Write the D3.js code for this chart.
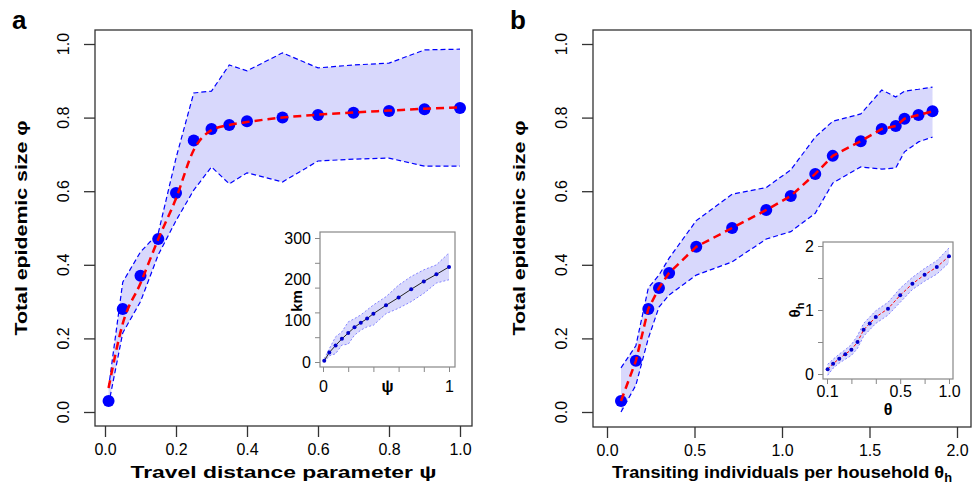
<!DOCTYPE html>
<html>
<head>
<meta charset="utf-8">
<script src="https://cdn.jsdelivr.net/npm/d3@7"></script>
<style>
    body { margin: 0; background: #fff; }
    svg { font-family: "Liberation Sans", Arial, sans-serif; }
</style>
</head>
<body>
<div id="graph"></div>
<script>
// panel a: travel distance parameter psi
var psiValues = [0.01, 0.05, 0.1, 0.15, 0.2, 0.25, 0.3, 0.35, 0.4, 0.5, 0.6, 0.7, 0.8, 0.9, 1.0];
var sizeA = [0.03, 0.28, 0.37, 0.47, 0.595, 0.738, 0.769, 0.78, 0.79, 0.80, 0.807, 0.813, 0.818, 0.823, 0.826];
var upperA = [0.065, 0.353, 0.435, 0.486, 0.69, 0.867, 0.872, 0.943, 0.927, 0.976, 0.935, 0.943, 0.948, 0.984, 0.986];
var lowerA = [0.02, 0.215, 0.30, 0.427, 0.52, 0.603, 0.666, 0.62, 0.65, 0.625, 0.682, 0.687, 0.69, 0.668, 0.668];
var fitA = [0.065, 0.24, 0.35, 0.47, 0.58, 0.712, 0.766, 0.78, 0.788, 0.80, 0.808, 0.814, 0.819, 0.824, 0.828];

// inset a: km vs psi
var kmValues = [3, 23, 40, 56, 70, 84, 95, 105, 117, 137, 156, 176, 195, 212, 230];
var kmUpper = [8, 32, 61, 73, 97, 105, 114, 126, 138, 158, 186, 207, 223, 235, 264];
var kmLower = [0, 15, 20, 41, 43, 65, 77, 85, 89, 117, 130, 146, 166, 191, 199];

// panel b: transiting individuals per household theta_h
var thetaH = [0.08, 0.165, 0.236, 0.297, 0.355, 0.51, 0.715, 0.91, 1.05, 1.19, 1.29, 1.45, 1.57, 1.65, 1.70, 1.78, 1.86];
var sizeB = [0.03, 0.139, 0.28, 0.337, 0.378, 0.449, 0.50, 0.549, 0.587, 0.647, 0.696, 0.736, 0.769, 0.777, 0.797, 0.807, 0.817];
var upperB = [0.12, 0.18, 0.337, 0.372, 0.418, 0.52, 0.592, 0.61, 0.658, 0.747, 0.79, 0.81, 0.875, 0.856, 0.872, 0.877, 0.883];
var lowerB = [0.0, 0.073, 0.20, 0.285, 0.318, 0.372, 0.408, 0.47, 0.49, 0.54, 0.622, 0.666, 0.66, 0.663, 0.707, 0.734, 0.747];

// inset b: theta_h vs theta
var thetaPos = [0.005, 0.05, 0.1, 0.15, 0.2, 0.25, 0.3, 0.35, 0.4, 0.5, 0.6, 0.7, 0.8, 0.9, 1.0];
var thetaHIn = [0.073, 0.16, 0.24, 0.31, 0.38, 0.50, 0.69, 0.79, 0.89, 1.02, 1.23, 1.41, 1.55, 1.67, 1.84];
var thetaHUp = [0.15, 0.23, 0.31, 0.38, 0.46, 0.60, 0.79, 0.89, 0.99, 1.12, 1.34, 1.51, 1.65, 1.77, 1.97];
var thetaHLo = [-0.02, 0.09, 0.17, 0.23, 0.29, 0.40, 0.59, 0.69, 0.79, 0.92, 1.12, 1.32, 1.45, 1.56, 1.74];

var yTicks = [0, 0.2, 0.4, 0.6, 0.8, 1.0];
var xTicksA = [0, 0.2, 0.4, 0.6, 0.8, 1.0];
var xTicksB = [0, 0.5, 1.0, 1.5, 2.0];
var insetXTicks = [0, 0.2, 0.4, 0.6, 0.8, 1.0];
var insetAXLabels = ["0", "", "", "", "", "1"];
var insetBXLabels = ["0.1", "", "", "0.5", "", "1.0"];
var kmTicks = [0, 60, 120, 180, 240, 300];
var kmLabels = [0, 100, 200, 300];
var thetaHTicks = [0, 0.5, 1, 1.5, 2];
var thetaHLabels = [0, 1, 2];

var width = 973, height = 497;
var svg = d3.select("#graph").append("svg")
    .attr("width", width)
    .attr("height", height);

var bandFill = "#d8d8fc";
var blue = "#0000ff";
var red = "#ff0000";
var fmt1 = d3.format(".1f");

function zip(xs, ys) {
    return xs.map(function(x, i) { return [x, ys[i]]; });
}

function drawPanel(opt) {
    var x = d3.scaleLinear().domain(opt.xDomain).range(opt.xRange);
    var y = d3.scaleLinear().domain([0, 1]).range([412, 44]);
    var g = svg.append("g");

    var area = d3.area()
        .x(function(d) { return x(d[0]); })
        .y0(function(d) { return y(d[1]); })
        .y1(function(d) { return y(d[2]); });
    var line = d3.line()
        .x(function(d) { return x(d[0]); })
        .y(function(d) { return y(d[1]); });

    var band = opt.xs.map(function(v, i) { return [v, opt.lower[i], opt.upper[i]]; });
    g.append("path").attr("d", area(band)).attr("fill", bandFill);
    [opt.upper, opt.lower].forEach(function(arr) {
        g.append("path")
            .attr("d", line(zip(opt.xs, arr)))
            .attr("fill", "none")
            .attr("stroke", blue)
            .attr("stroke-width", 1.2)
            .attr("stroke-dasharray", "5,3");
    });

    g.selectAll(".pt")
        .data(zip(opt.xs, opt.values))
        .enter()
        .append("circle")
        .attr("class", "pt")
        .attr("cx", function(d) { return x(d[0]); })
        .attr("cy", function(d) { return y(d[1]); })
        .attr("r", 6)
        .attr("fill", blue);

    var redLine = d3.line()
        .curve(opt.curve)
        .x(function(d) { return x(d[0]); })
        .y(function(d) { return y(d[1]); });
    g.append("path")
        .attr("d", redLine(zip(opt.xs, opt.fit)))
        .attr("fill", "none")
        .attr("stroke", red)
        .attr("stroke-width", 2.5)
        .attr("stroke-dasharray", "8,5");

    // box
    g.append("rect")
        .attr("x", opt.box[0]).attr("y", opt.box[1])
        .attr("width", opt.box[2] - opt.box[0])
        .attr("height", opt.box[3] - opt.box[1])
        .attr("fill", "none").attr("stroke", "#333").attr("stroke-width", 1.3);

    // y axis
    var yAxis = d3.axisLeft(y).tickValues(yTicks).tickSize(11).tickFormat("");
    var gY = g.append("g").attr("transform", "translate(" + opt.box[0] + ",0)").call(yAxis);
    gY.select(".domain").remove();
    gY.selectAll("line").attr("stroke", "#333").attr("stroke-width", 1.3);
    g.selectAll(".ylab")
        .data(yTicks)
        .enter()
        .append("text")
        .attr("transform", function(d) { return "translate(" + (opt.box[0] - 26) + "," + y(d) + ") rotate(-90)"; })
        .attr("text-anchor", "middle")
        .attr("font-size", 16)
        .text(fmt1);

    // x axis
    var xAxis = d3.axisBottom(x).tickValues(opt.xTicks).tickSize(11).tickPadding(7).tickFormat(fmt1);
    var gX = g.append("g").attr("transform", "translate(0," + opt.box[3] + ")").call(xAxis);
    gX.select(".domain").remove();
    gX.selectAll("line").attr("stroke", "#333").attr("stroke-width", 1.3);
    gX.selectAll("text").attr("font-size", 16).attr("fill", "#000")
        .attr("font-family", "\"Liberation Sans\", Arial, sans-serif");

    // titles
    g.append("text")
        .attr("transform", "translate(" + (opt.box[0] - 68) + ",228) rotate(-90)")
        .attr("text-anchor", "middle")
        .attr("font-size", 17)
        .attr("font-weight", "bold")
        .attr("textLength", 215)
        .attr("lengthAdjust", "spacingAndGlyphs")
        .text("Total epidemic size \u03c6");
    var xt = g.append("text")
        .attr("x", (opt.box[0] + opt.box[2]) / 2)
        .attr("y", 478)
        .attr("text-anchor", "middle")
        .attr("font-size", 17)
        .attr("font-weight", "bold")
        .attr("textLength", opt.xTitleLen)
        .attr("lengthAdjust", "spacingAndGlyphs")
        .text(opt.xTitle);
    if (opt.xSub) {
        xt.append("tspan").attr("font-size", 12).attr("dy", 4).text(opt.xSub);
    }
    g.append("text")
        .attr("x", opt.box[0] - 83)
        .attr("y", 29)
        .attr("font-size", 26)
        .attr("font-weight", "bold")
        .text(opt.letter);
}

function drawInset(opt) {
    var x = d3.scaleLinear().domain([0, 1]).range(opt.xRange);
    var y = d3.scaleLinear().domain(opt.yDomain).range(opt.yRange);
    var g = svg.append("g");
    g.append("rect")
        .attr("x", opt.box[0]).attr("y", opt.box[1])
        .attr("width", opt.box[2] - opt.box[0])
        .attr("height", opt.box[3] - opt.box[1])
        .attr("fill", "#fff").attr("stroke", "#888").attr("stroke-width", 1.2);

    var area = d3.area()
        .x(function(d) { return x(d[0]); })
        .y0(function(d) { return y(d[1]); })
        .y1(function(d) { return y(d[2]); });
    var line = d3.line()
        .x(function(d) { return x(d[0]); })
        .y(function(d) { return y(d[1]); });
    var band = opt.xs.map(function(v, i) { return [v, opt.lower[i], opt.upper[i]]; });
    g.append("path").attr("d", area(band)).attr("fill", bandFill);
    [opt.upper, opt.lower].forEach(function(arr) {
        g.append("path")
            .attr("d", line(zip(opt.xs, arr)))
            .attr("fill", "none")
            .attr("stroke", "#6a6aff")
            .attr("stroke-width", 0.8)
            .attr("stroke-dasharray", "2,2");
    });
    g.append("path")
        .attr("d", line(zip(opt.xs, opt.values)))
        .attr("fill", "none")
        .attr("stroke", opt.lineColor)
        .attr("stroke-width", 1)
        .attr("stroke-dasharray", opt.lineDash);
    g.selectAll(".ipt")
        .data(zip(opt.xs, opt.values))
        .enter()
        .append("circle")
        .attr("class", "ipt")
        .attr("cx", function(d) { return x(d[0]); })
        .attr("cy", function(d) { return y(d[1]); })
        .attr("r", 2)
        .attr("fill", "#0000cc");

    // tick marks and labels are placed separately (labels do not sit on every tick)
    var yAxis = d3.axisLeft(y).tickValues(opt.yTicks).tickSize(5).tickFormat("");
    var gY = g.append("g").attr("transform", "translate(" + opt.box[0] + ",0)").call(yAxis);
    gY.select(".domain").remove();
    gY.selectAll("line").attr("stroke", "#888");
    g.selectAll(".iylab")
        .data(opt.yLabels)
        .enter()
        .append("text")
        .attr("x", opt.box[0] - 9)
        .attr("y", function(d) { return y(d); })
        .attr("dy", "0.35em")
        .attr("text-anchor", "end")
        .attr("font-size", 16)
        .text(function(d) { return d; });

    var xAxis = d3.axisBottom(x).tickValues(insetXTicks).tickSize(5).tickPadding(opt.xPad)
        .tickFormat(function(d, i) { return opt.xLabels[i]; });
    var gX = g.append("g").attr("transform", "translate(0," + opt.box[3] + ")").call(xAxis);
    gX.select(".domain").remove();
    gX.selectAll("line").attr("stroke", "#888");
    gX.selectAll("text").attr("font-size", 16).attr("fill", "#000")
        .attr("font-family", "\"Liberation Sans\", Arial, sans-serif");

    g.append("text")
        .attr("x", (opt.box[0] + opt.box[2]) / 2)
        .attr("y", opt.xTitleY)
        .attr("text-anchor", "middle")
        .attr("font-size", 16)
        .attr("font-weight", "bold")
        .text(opt.xTitle);
    var yt = g.append("text")
        .attr("transform", "translate(" + opt.yTitleX + "," + opt.yTitleY + ") rotate(-90)")
        .attr("text-anchor", "middle")
        .attr("font-size", 15)
        .attr("font-weight", "bold")
        .text(opt.yTitle);
    if (opt.ySub) {
        yt.append("tspan").attr("font-size", 11).attr("dy", 4).text(opt.ySub);
    }
}

drawPanel({
    letter: "a",
    box: [95, 30, 472, 426],
    xDomain: [0, 1], xRange: [105, 460],
    xTicks: xTicksA,
    xs: psiValues, values: sizeA, upper: upperA, lower: lowerA, fit: fitA,
    curve: d3.curveMonotoneX,
    xTitle: "Travel distance parameter \u03c8", xTitleLen: 306
});

drawPanel({
    letter: "b",
    box: [593, 30, 971, 427],
    xDomain: [0, 2], xRange: [607, 957],
    xTicks: xTicksB,
    xs: thetaH, values: sizeB, upper: upperB, lower: lowerB, fit: sizeB,
    curve: d3.curveLinear,
    xTitle: "Transiting individuals per household \u03b8", xSub: "h", xTitleLen: 340
});

drawInset({
    box: [320, 232, 455, 367],
    xRange: [323, 449],
    yDomain: [0, 300], yRange: [362, 238],
    yTicks: kmTicks, yLabels: kmLabels,
    xLabels: insetAXLabels, xPad: 9,
    xs: psiValues, values: kmValues, upper: kmUpper, lower: kmLower,
    lineColor: "#222", lineDash: null,
    xTitle: "\u03c8", xTitleY: 392, yTitle: "km", yTitleX: 302, yTitleY: 301
});

drawInset({
    box: [823, 242, 953, 379],
    xRange: [827, 949],
    yDomain: [0, 2], yRange: [374, 246],
    yTicks: thetaHTicks, yLabels: thetaHLabels,
    xLabels: insetBXLabels, xPad: 2,
    xs: thetaPos, values: thetaHIn, upper: thetaHUp, lower: thetaHLo,
    lineColor: red, lineDash: "3,2",
    xTitle: "\u03b8", xTitleY: 415, yTitle: "\u03b8", ySub: "h", yTitleX: 800, yTitleY: 310
});
</script>
</body>
</html>
